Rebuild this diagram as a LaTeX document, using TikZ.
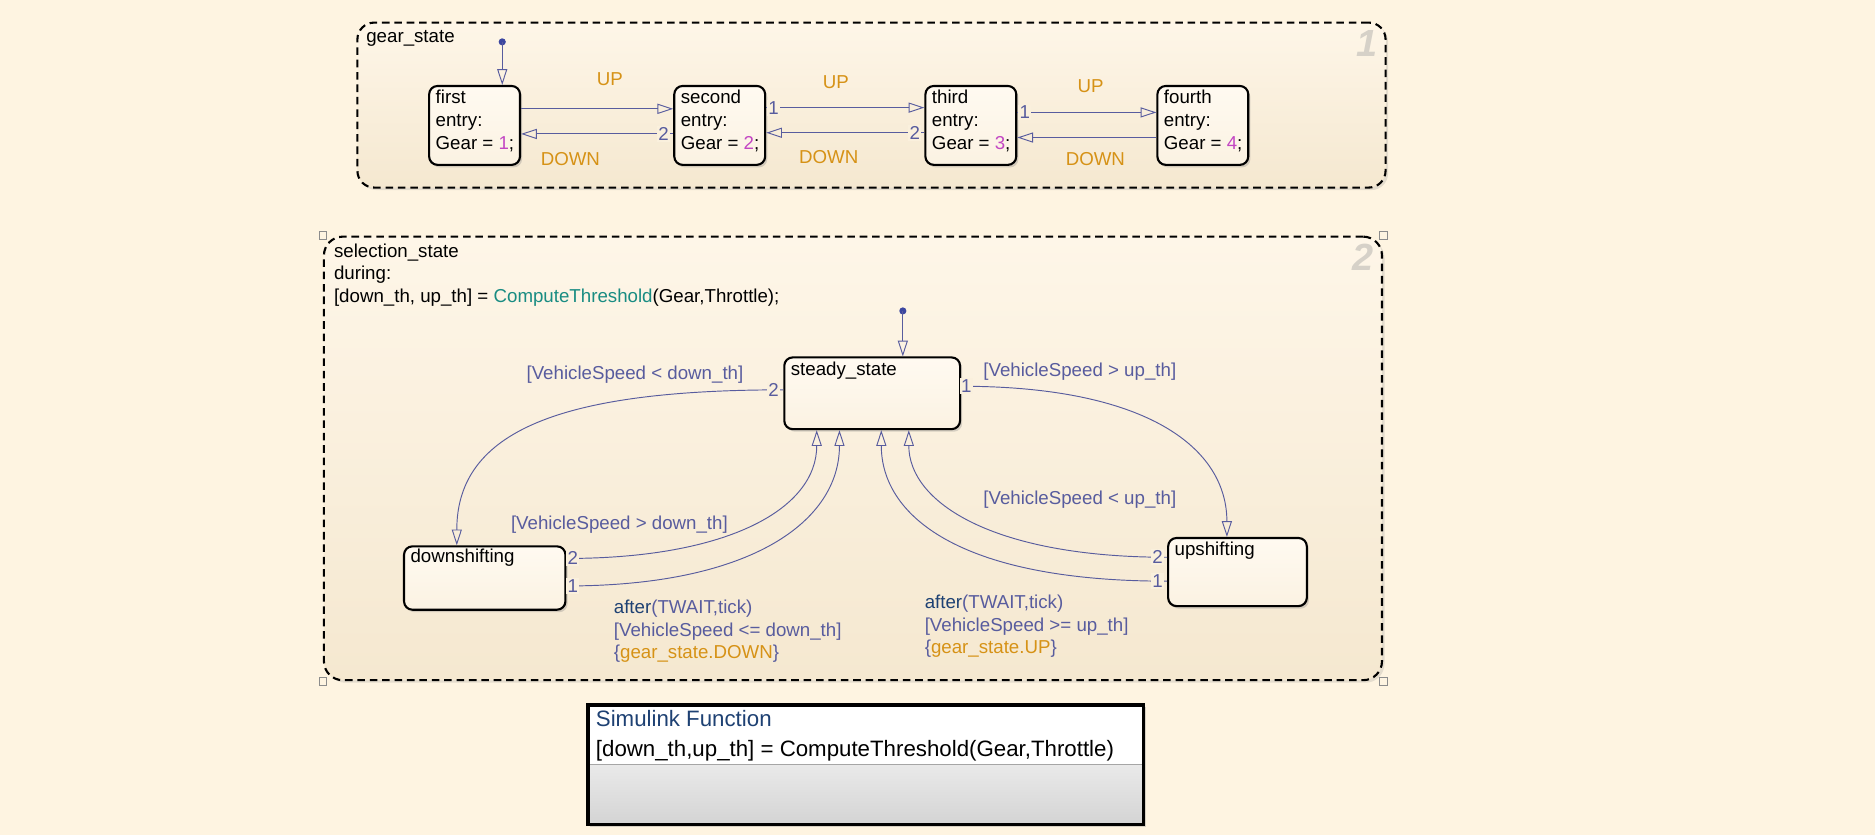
\documentclass[tikz,border=0pt]{standalone}
\usepackage{fontspec}
\setmainfont{Liberation Sans}
\usetikzlibrary{arrows.meta,shadows,calc}
\definecolor{bg}{RGB}{254,244,225}
\definecolor{trc}{RGB}{88,92,158}
\definecolor{dotc}{RGB}{60,70,160}
\definecolor{evc}{RGB}{214,146,22}
\definecolor{numc}{RGB}{195,70,195}
\definecolor{tealc}{RGB}{25,140,130}
\definecolor{navyc}{RGB}{30,65,115}
\definecolor{gnum}{RGB}{214,209,200}
\definecolor{stT}{RGB}{255,250,241}
\definecolor{stB}{RGB}{251,242,226}
\definecolor{regT}{RGB}{254,246,232}
\definecolor{regB}{RGB}{245,232,208}
\definecolor{regM}{RGB}{250,240,221}
\tikzset{
  tr/.style={draw=trc, line width=0.45pt, -{Triangle[open, length=7.5pt, width=4.8pt]}},
  stbox/.style={draw=black, line width=1pt, rounded corners=4pt, top color=stT, bottom color=stB,
    drop shadow={opacity=0.3, shadow xshift=1pt, shadow yshift=-1.2pt}, inner sep=0pt, anchor=north west},
  region/.style={draw=black, line width=1pt, dash pattern=on 3.6pt off 2.3pt, rounded corners=8pt,
    top color=regT, bottom color=regB, anchor=north west, inner sep=0pt,
    drop shadow={opacity=0.2, shadow xshift=1.2pt, shadow yshift=-1.2pt}},
  txt/.style={inner sep=0pt, text=black},
  mtxt/.style={inner sep=0pt, text=black, align=left, anchor=north west},
  num/.style={text=trc, inner sep=0.7pt, fill=regM},
  ev/.style={text=evc, inner sep=0pt, anchor=base},
  cond/.style={text=trc, inner sep=0pt, anchor=base},
  bignum/.style={text=gnum, font=\fontsize{18}{18}\selectfont\bfseries\itshape, inner sep=0pt},
  handle/.style={draw=black!45, line width=0.4pt, minimum size=0.13cm, inner sep=0pt},
  simbox/.style={fill=white, line width=1.7pt, draw=black, anchor=north west, inner sep=0pt,
    drop shadow={opacity=0.3, shadow xshift=1.2pt, shadow yshift=-1.2pt},
    path picture={\shade[top color=white, bottom color=black!17] (path picture bounding box.west) rectangle (path picture bounding box.south east);
      \draw[black!35, line width=0.5pt] (path picture bounding box.west) -- (path picture bounding box.east);}}
}
\begin{document}
\begin{tikzpicture}[x=0.02cm, y=-0.02cm, font=\fontsize{8.9}{10.8}\selectfont]
\fill[bg] (0,0) rectangle (1568,698);
\useasboundingbox (0,0) rectangle (1568,698);

% ---------- gear_state ----------
\node[region, minimum width=17.2cm, minimum height=2.76cm] (gear) at (298,18) {};
\node[txt, anchor=base west] (gearL) at (306,35.5) {gear\_state};
\node[bignum] (gearN) at (1143,36) {1};

\node[stbox, minimum width=1.52cm, minimum height=1.32cm] (first)  at (358,71) {};
\node[stbox, minimum width=1.52cm, minimum height=1.32cm] (second) at (563,71) {};
\node[stbox, minimum width=1.52cm, minimum height=1.32cm] (third)  at (773,71) {};
\node[stbox, minimum width=1.52cm, minimum height=1.32cm] (fourth) at (967,71) {};
\node[mtxt] (firstT)  at ($(first.north west)+(6,2.3)$)  {\strut first\\entry:\\Gear = \textcolor{numc}{1};};
\node[mtxt] (secondT) at ($(second.north west)+(6,2.3)$) {\strut second\\entry:\\Gear = \textcolor{numc}{2};};
\node[mtxt] (thirdT)  at ($(third.north west)+(6,2.3)$)  {\strut third\\entry:\\Gear = \textcolor{numc}{3};};
\node[mtxt] (fourthT) at ($(fourth.north west)+(6,2.3)$) {\strut fourth\\entry:\\Gear = \textcolor{numc}{4};};

\coordinate (gi) at (420,35);
\fill[dotc] (gi) circle (1.7pt);
\draw[tr] (gi) -- (gi |- first.north);

\draw[tr] (first.east |- 0,91) -- (second.west |- 0,91);
\draw[tr] (second.west |- 0,112) -- (first.east |- 0,112);
\draw[tr] (second.east |- 0,90) -- (third.west |- 0,90);
\draw[tr] (third.west |- 0,111) -- (second.east |- 0,111);
\draw[tr] (third.east |- 0,94) -- (fourth.west |- 0,94);
\draw[tr] (fourth.west |- 0,115) -- (third.east |- 0,115);
\node[num] (n1) at (555,112) {2};
\node[num] (n2) at (647,90) {1};
\node[num] (n3) at (765,111) {2};
\node[num] (n4) at (857,94) {1};
\node[ev] (e1) at (510,71.6) {UP};
\node[ev] (e2) at (477,138.6) {DOWN};
\node[ev] (e3) at (699,73.6) {UP};
\node[ev] (e4) at (693,136.6) {DOWN};
\node[ev] (e5) at (912,77.6) {UP};
\node[ev] (e6) at (916,138.6) {DOWN};

% ---------- selection_state ----------
\node[region, minimum width=17.7cm, minimum height=7.42cm, rounded corners=9pt] (sel) at (270,197) {};
\node[handle] (h1) at (sel.north west) {};
\node[handle] (h2) at (sel.north east) {};
\node[handle] (h3) at (sel.south west) {};
\node[handle] (h4) at (sel.south east) {};
\node[bignum] (selN) at (1140,215) {2};
\node[mtxt] (selT) at (279,201.3) {\strut selection\_state\\during:\\{}[down\_th, up\_th] = \textcolor{tealc}{ComputeThreshold}(Gear,Throttle);};

\node[stbox, minimum width=2.94cm, minimum height=1.2cm] (steady) at (655,298) {};
\node[stbox, minimum width=2.7cm, minimum height=1.06cm] (down) at (337,456) {};
\node[stbox, minimum width=2.32cm, minimum height=1.14cm] (up) at (976,449) {};
\node[txt, anchor=base west] (steadyT) at (661,313.6) {steady\_state};
\node[txt, anchor=base west] (downT) at (343,470.6) {downshifting};
\node[txt, anchor=base west] (upT) at (982,464.6) {upshifting};

\coordinate (si) at (755,260);
\fill[dotc] (si) circle (1.7pt);
\draw[tr] (si) -- (si |- steady.north);

\draw[tr] (steady.west |- 0,326) .. controls (470,326) and (382,360) .. (down.north -| 382,0);
\draw[tr] (down.east |- 0,467) .. controls (610,467) and (683,425) .. (steady.south -| 683,0);
\draw[tr] (down.east |- 0,490) .. controls (630,490) and (702,435) .. (steady.south -| 702,0);
\draw[tr] (steady.east |- 0,323) .. controls (960,323) and (1026,375) .. (up.north -| 1026,0);
\draw[tr] (up.west |- 0,466) .. controls (830,466) and (760,420) .. (steady.south -| 760,0);
\draw[tr] (up.west |- 0,486) .. controls (800,486) and (737,430) .. (steady.south -| 737,0);

\node[num] (m1) at (647,326) {2};
\node[num] (m2) at (479,467) {2};
\node[num] (m3) at (479,490) {1};
\node[num] (m4) at (808,323) {1};
\node[num] (m5) at (968,466) {2};
\node[num] (m6) at (968,486) {1};

\node[cond] (c1) at (531,317.6) {[VehicleSpeed < down\_th]};
\node[cond] (c2) at (518,442.6) {[VehicleSpeed > down\_th]};
\node[cond] (c3) at (903,314.6) {[VehicleSpeed > up\_th]};
\node[cond] (c4) at (903,421.6) {[VehicleSpeed < up\_th]};
\node[mtxt, text=trc] (a1) at (513,499.3) {\strut\textcolor{navyc}{after}(TWAIT,tick)\\{}[VehicleSpeed <= down\_th]\\\{\textcolor{evc}{gear\_state.DOWN}\}};
\node[mtxt, text=trc] (a2) at (773,495.3) {\strut\textcolor{navyc}{after}(TWAIT,tick)\\{}[VehicleSpeed >= up\_th]\\\{\textcolor{evc}{gear\_state.UP}\}};

% ---------- Simulink Function ----------
\node[simbox, minimum width=9.3cm, minimum height=2cm] (simf) at (490,588) {};
\node[txt, anchor=base west, text=navyc, font=\fontsize{10.6}{12}\selectfont] (simT1) at (498,607.5) {Simulink Function};
\node[txt, anchor=base west, font=\fontsize{10.6}{12}\selectfont] (simT2) at (498,632.5) {[down\_th,up\_th] = ComputeThreshold(Gear,Throttle)};
\end{tikzpicture}
\end{document}
